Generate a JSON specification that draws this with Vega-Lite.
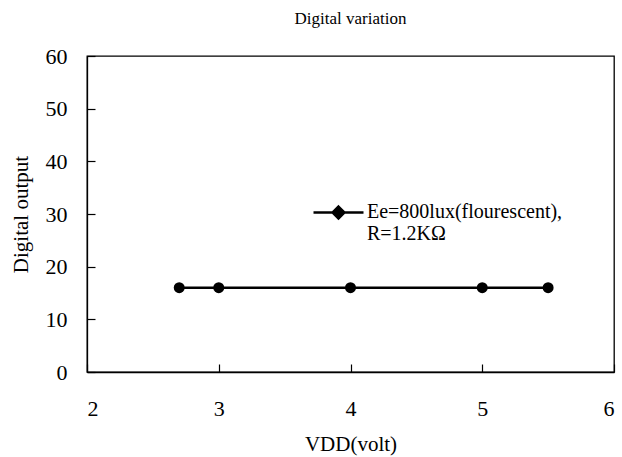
{
  "$schema": "https://vega.github.io/schema/vega-lite/v6.json",
  "width": 527,
  "height": 316,
  "autosize": {"type": "none"},
  "padding": {"left": 87, "top": 56, "right": 8, "bottom": 85},
  "title": {"text": "Digital variation", "font": "Liberation Serif", "fontSize": 17, "fontWeight": "normal", "color": "black", "offset": 17},
  "config": {
    "view": {"stroke": "black", "strokeWidth": 1.3},
    "font": "Liberation Serif",
    "axis": {"labelFont": "Liberation Serif", "labelFontSize": 22, "labelColor": "black", "titleFont": "Liberation Serif", "titleFontSize": 21, "titleFontWeight": "normal", "titleColor": "black", "grid": false, "tickColor": "black", "domainColor": "black", "tickSize": -8, "tickWidth": 1.2, "domainWidth": 1.3},
    "legend": {"labelFont": "Liberation Serif", "labelFontSize": 20, "labelColor": "black"}
  },
  "data": {"values": [
    {"vdd": 2.7, "out": 16, "series": "Ee=800lux(flourescent), R=1.2KΩ"},
    {"vdd": 3, "out": 16, "series": "Ee=800lux(flourescent), R=1.2KΩ"},
    {"vdd": 4, "out": 16, "series": "Ee=800lux(flourescent), R=1.2KΩ"},
    {"vdd": 5, "out": 16, "series": "Ee=800lux(flourescent), R=1.2KΩ"},
    {"vdd": 5.5, "out": 16, "series": "Ee=800lux(flourescent), R=1.2KΩ"}
  ]},
  "encoding": {
    "x": {"field": "vdd", "type": "quantitative", "scale": {"domain": [2, 6], "nice": false, "zero": false},
      "axis": {"title": "VDD(volt)", "values": [2, 3, 4, 5, 6], "labelPadding": 34, "titlePadding": 14}},
    "y": {"field": "out", "type": "quantitative", "scale": {"domain": [0, 60], "nice": false},
      "axis": {"title": "Digital output", "values": [0, 10, 20, 30, 40, 50, 60], "labelPadding": 28, "titlePadding": 14}}
  },
  "layer": [
    {"mark": {"type": "line", "color": "black", "strokeWidth": 2.6},
     "encoding": {
       "color": {"field": "series", "type": "nominal", "scale": {"range": ["black"]},
         "legend": {"orient": "none", "legendX": 225, "legendY": 119, "title": null,
           "symbolType": "M-1,0.44L1,0.44M0,0.2L0.24,0.44L0,0.68L-0.24,0.44Z", "symbolSize": 2500, "symbolFillColor": "black", "symbolStrokeColor": "black", "symbolStrokeWidth": 2.4,
           "labelOffset": 2, "labelLimit": 400,
           "labelExpr": "['Ee=800lux(flourescent),', 'R=1.2KΩ']", "labelBaseline": "top"}}
     }},
    {"mark": {"type": "point", "shape": "circle", "filled": true, "color": "black", "size": 120, "opacity": 1}}
  ]
}
